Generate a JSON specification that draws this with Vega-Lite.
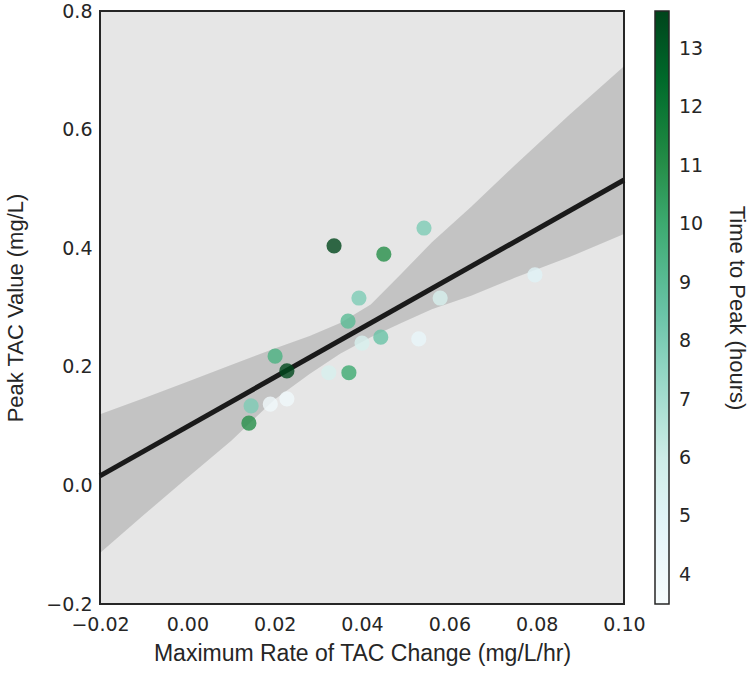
{
  "$schema": "https://vega.github.io/schema/vega-lite/v6.json",
  "width": 524,
  "height": 593,
  "padding": {"left": 4, "top": 2, "right": 5, "bottom": 5},
  "background": "white",
  "config": {
    "view": {"fill": "#e6e6e6", "stroke": "#262626", "strokeWidth": 2},
    "axis": {
      "grid": false,
      "ticks": false,
      "domain": false,
      "labelFlush": false,
      "labelFont": "DejaVu Sans",
      "labelFontSize": 19,
      "labelColor": "#262626",
      "labelPadding": 8,
      "titleFont": "Liberation Sans",
      "titleFontSize": 22,
      "titleFontWeight": "normal",
      "titleColor": "#262626"
    },
    "legend": {
      "labelFont": "DejaVu Sans",
      "labelFontSize": 19,
      "labelColor": "#262626",
      "titleFont": "Liberation Sans",
      "titleFontSize": 22,
      "titleFontWeight": "normal",
      "titleColor": "#262626"
    }
  },
  "datasets": {
    "points": [
      {"rate": 0.0336, "peak": 0.404, "t": 13.6},
      {"rate": 0.045, "peak": 0.39, "t": 11},
      {"rate": 0.0542, "peak": 0.434, "t": 8},
      {"rate": 0.0393, "peak": 0.316, "t": 8},
      {"rate": 0.0579, "peak": 0.316, "t": 5.5},
      {"rate": 0.0368, "peak": 0.277, "t": 9},
      {"rate": 0.040, "peak": 0.24, "t": 5.5},
      {"rate": 0.0443, "peak": 0.25, "t": 8.5},
      {"rate": 0.053, "peak": 0.247, "t": 4.5},
      {"rate": 0.0201, "peak": 0.218, "t": 9.5},
      {"rate": 0.0228, "peak": 0.193, "t": 13.5},
      {"rate": 0.0324, "peak": 0.19, "t": 5.5},
      {"rate": 0.037, "peak": 0.19, "t": 10},
      {"rate": 0.0146, "peak": 0.134, "t": 8},
      {"rate": 0.019, "peak": 0.137, "t": 4},
      {"rate": 0.0228, "peak": 0.146, "t": 4},
      {"rate": 0.0141, "peak": 0.105, "t": 11},
      {"rate": 0.0796, "peak": 0.355, "t": 5}
    ],
    "band": [
      {"x": -0.02, "lo": -0.114, "hi": 0.12},
      {"x": -0.01, "lo": -0.05, "hi": 0.147},
      {"x": 0.0, "lo": 0.013, "hi": 0.175},
      {"x": 0.01, "lo": 0.075, "hi": 0.203},
      {"x": 0.02, "lo": 0.145, "hi": 0.231},
      {"x": 0.028, "lo": 0.188, "hi": 0.252},
      {"x": 0.035, "lo": 0.222, "hi": 0.274},
      {"x": 0.042, "lo": 0.25, "hi": 0.305},
      {"x": 0.049, "lo": 0.274, "hi": 0.357},
      {"x": 0.056, "lo": 0.297, "hi": 0.41},
      {"x": 0.065, "lo": 0.32, "hi": 0.47},
      {"x": 0.075, "lo": 0.35, "hi": 0.54},
      {"x": 0.0875, "lo": 0.385, "hi": 0.625},
      {"x": 0.10, "lo": 0.424, "hi": 0.707}
    ],
    "fit": [
      {"x": -0.02, "y": 0.016},
      {"x": 0.10, "y": 0.515}
    ]
  },
  "layer": [
    {
      "data": {"name": "band"},
      "mark": {"type": "area", "color": "black", "opacity": 0.15},
      "encoding": {
        "x": {
          "field": "x", "type": "quantitative",
          "scale": {"domain": [-0.02, 0.10], "nice": false, "zero": false},
          "axis": {"values": [-0.02, 0, 0.02, 0.04, 0.06, 0.08, 0.10], "format": ".2f", "title": "Maximum Rate of TAC Change (mg/L/hr)", "titlePadding": 8, "labelPadding": 11, "titleFontSize": 23}
        },
        "y": {
          "field": "lo", "type": "quantitative",
          "scale": {"domain": [-0.2, 0.8], "nice": false, "zero": false},
          "axis": {"values": [-0.2, 0, 0.2, 0.4, 0.6, 0.8], "format": ".1f", "title": "Peak TAC Value (mg/L)", "titlePadding": 18}
        },
        "y2": {"field": "hi"}
      }
    },
    {
      "data": {"name": "fit"},
      "mark": {"type": "line", "color": "#1a1a1a", "strokeWidth": 5},
      "encoding": {
        "x": {"field": "x", "type": "quantitative"},
        "y": {"field": "y", "type": "quantitative"}
      }
    },
    {
      "data": {"name": "points"},
      "mark": {"type": "circle", "size": 230, "fillOpacity": 0.8},
      "encoding": {
        "x": {"field": "rate", "type": "quantitative"},
        "y": {"field": "peak", "type": "quantitative"},
        "color": {
          "field": "t", "type": "quantitative",
          "scale": {"domain": [3.5, 13.65], "range": ["#f7fcfd", "#e5f5f9", "#ccece6", "#99d8c9", "#66c2a4", "#41ae76", "#238b45", "#006d2c", "#00441b"], "interpolate": "rgb"},
          "legend": {
            "title": "Time to Peak (hours)",
            "values": [4, 5, 6, 7, 8, 9, 10, 11, 12, 13],
            "gradientLength": 593,
            "gradientThickness": 14,
            "gradientStrokeColor": "#262626",
            "gradientStrokeWidth": 1.5,
            "offset": 31,
            "padding": 0,
            "labelOffset": 10,
            "labelOverlap": false,
            "titleOrient": "right",
            "titleAnchor": "middle",
            "titlePadding": 22,
            "titleLimit": 800,
            "encode": {
              "title": {"update": {"angle": {"value": 90}}},
              "gradient": {"update": {"opacity": {"value": 1}, "fillOpacity": {"value": 1}}}
            }
          }
        }
      }
    }
  ]
}
